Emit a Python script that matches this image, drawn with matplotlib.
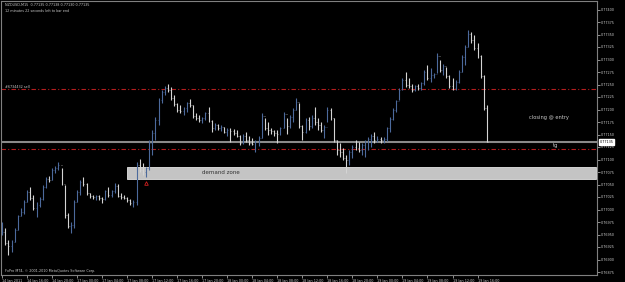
import matplotlib
matplotlib.use("Agg")
import matplotlib.pyplot as plt
import matplotlib.patches as mpatches
import matplotlib.transforms as mtransforms

# header / footer texts of the terminal window
symbol_info = "NZDUSD,M15  0.77135 0.77138 0.77130 0.77135"
timer_info = "12 minutes 22 seconds left to bar end"
copyright_info = "FxPro MT4, \u00a9 2001-2010 MetaQuotes Software Corp."

# bars (one bar every 30 min)
highs = [
    0.76975, 0.76963, 0.76939, 0.76939, 0.76963, 0.76989, 0.77003, 0.77019,
    0.77039, 0.77045, 0.77029, 0.77015, 0.77025, 0.77049, 0.77065, 0.77067,
    0.77083, 0.77087, 0.77095, 0.77083, 0.77049, 0.76993, 0.76975, 0.77019,
    0.77039, 0.77059, 0.77065, 0.77053, 0.77033, 0.77029, 0.77029, 0.77029,
    0.77025, 0.77039, 0.77045, 0.77039, 0.77053, 0.77051, 0.77033, 0.77029,
    0.77025, 0.77021, 0.77019, 0.77095, 0.77101, 0.77093, 0.77085, 0.77139,
    0.77159, 0.77185, 0.77223, 0.77239, 0.77247, 0.77251, 0.77245, 0.77229,
    0.77213, 0.77209, 0.77205, 0.77215, 0.77221, 0.77209, 0.77193, 0.77189,
    0.77185, 0.77195, 0.77205, 0.77179, 0.77173, 0.77171, 0.77169, 0.77165,
    0.77163, 0.77163, 0.77161, 0.77159, 0.77149, 0.77151, 0.77155, 0.77147,
    0.77143, 0.77139, 0.77147, 0.77193, 0.77183, 0.77175, 0.77163, 0.77159,
    0.77159, 0.77165, 0.77195, 0.77183, 0.77189, 0.77203, 0.77223, 0.77213,
    0.77169, 0.77183, 0.77185, 0.77189, 0.77205, 0.77183, 0.77175, 0.77169,
    0.77205, 0.77203, 0.77183, 0.77139, 0.77133, 0.77123, 0.77109, 0.77119,
    0.77129, 0.77139, 0.77135, 0.77133, 0.77139, 0.77145, 0.77151, 0.77155,
    0.77147, 0.77145, 0.77145, 0.77165, 0.77185, 0.77203, 0.77219, 0.77243,
    0.77263, 0.77275, 0.77263, 0.77251, 0.77249, 0.77251, 0.77255, 0.77279,
    0.77289, 0.77283, 0.77273, 0.77313, 0.77299, 0.77291, 0.77285, 0.77269,
    0.77263, 0.77259, 0.77279, 0.77309, 0.77329, 0.77359, 0.77355, 0.77349,
    0.77333, 0.77309, 0.77269, 0.77209,
]
lows = [
    0.76949, 0.76929, 0.76909, 0.76915, 0.76935, 0.76959, 0.76987, 0.76991,
    0.77015, 0.77019, 0.76999, 0.76985, 0.77005, 0.77019, 0.77043, 0.77055,
    0.77059, 0.77073, 0.77079, 0.77049, 0.76983, 0.76963, 0.76953, 0.76963,
    0.77015, 0.77029, 0.77047, 0.77029, 0.77023, 0.77021, 0.77019, 0.77019,
    0.77013, 0.77019, 0.77025, 0.77025, 0.77033, 0.77025, 0.77021, 0.77021,
    0.77015, 0.77009, 0.77005, 0.77009, 0.77075, 0.77069, 0.77065, 0.77079,
    0.77109, 0.77139, 0.77169, 0.77213, 0.77229, 0.77235, 0.77219, 0.77207,
    0.77195, 0.77193, 0.77189, 0.77195, 0.77205, 0.77183, 0.77179, 0.77175,
    0.77173, 0.77179, 0.77175, 0.77155, 0.77159, 0.77159, 0.77157, 0.77153,
    0.77147, 0.77135, 0.77149, 0.77145, 0.77129, 0.77131, 0.77135, 0.77129,
    0.77129, 0.77115, 0.77127, 0.77143, 0.77159, 0.77149, 0.77151, 0.77147,
    0.77133, 0.77149, 0.77163, 0.77151, 0.77163, 0.77175, 0.77199, 0.77163,
    0.77139, 0.77153, 0.77159, 0.77163, 0.77169, 0.77159, 0.77155, 0.77143,
    0.77175, 0.77179, 0.77135, 0.77109, 0.77105, 0.77099, 0.77073, 0.77089,
    0.77103, 0.77119, 0.77115, 0.77109, 0.77105, 0.77119, 0.77125, 0.77133,
    0.77135, 0.77133, 0.77133, 0.77137, 0.77155, 0.77179, 0.77195, 0.77219,
    0.77239, 0.77245, 0.77243, 0.77235, 0.77237, 0.77239, 0.77239, 0.77249,
    0.77259, 0.77255, 0.77263, 0.77273, 0.77275, 0.77269, 0.77263, 0.77243,
    0.77239, 0.77239, 0.77253, 0.77275, 0.77289, 0.77325, 0.77333, 0.77319,
    0.77303, 0.77263, 0.77199, 0.77135,
]
closes = [
    0.76955, 0.76933, 0.76927, 0.76935, 0.76959, 0.76987, 0.76995, 0.77015,
    0.77035, 0.77023, 0.77003, 0.77009, 0.77021, 0.77045, 0.77061, 0.77059,
    0.77079, 0.77083, 0.77089, 0.77051, 0.76989, 0.76967, 0.76969, 0.77015,
    0.77035, 0.77055, 0.77051, 0.77033, 0.77027, 0.77025, 0.77027, 0.77023,
    0.77021, 0.77037, 0.77029, 0.77037, 0.77047, 0.77027, 0.77025, 0.77023,
    0.77019, 0.77013, 0.77015, 0.77089, 0.77079, 0.77075, 0.77083, 0.77133,
    0.77153, 0.77179, 0.77219, 0.77235, 0.77243, 0.77239, 0.77223, 0.77211,
    0.77199, 0.77197, 0.77203, 0.77213, 0.77209, 0.77187, 0.77183, 0.77179,
    0.77183, 0.77193, 0.77177, 0.77163, 0.77169, 0.77163, 0.77165, 0.77155,
    0.77159, 0.77157, 0.77153, 0.77147, 0.77133, 0.77147, 0.77139, 0.77133,
    0.77131, 0.77135, 0.77143, 0.77187, 0.77163, 0.77159, 0.77157, 0.77153,
    0.77151, 0.77163, 0.77191, 0.77167, 0.77185, 0.77199, 0.77215, 0.77167,
    0.77155, 0.77179, 0.77167, 0.77183, 0.77175, 0.77169, 0.77159, 0.77165,
    0.77199, 0.77183, 0.77139, 0.77119, 0.77115, 0.77103, 0.77099, 0.77115,
    0.77125, 0.77123, 0.77119, 0.77129, 0.77135, 0.77141, 0.77147, 0.77139,
    0.77141, 0.77139, 0.77141, 0.77163, 0.77181, 0.77199, 0.77217, 0.77239,
    0.77259, 0.77249, 0.77247, 0.77239, 0.77247, 0.77243, 0.77253, 0.77275,
    0.77263, 0.77269, 0.77271, 0.77307, 0.77279, 0.77287, 0.77267, 0.77247,
    0.77243, 0.77255, 0.77275, 0.77305, 0.77325, 0.77351, 0.77339, 0.77323,
    0.77307, 0.77267, 0.77203, 0.77135,
]

time_labels = [
    "14 Jan 2011", "14 Jan 16:00", "14 Jan 20:00", "17 Jan 00:00",
    "17 Jan 04:00", "17 Jan 08:00", "17 Jan 12:00", "17 Jan 16:00",
    "17 Jan 20:00", "18 Jan 00:00", "18 Jan 04:00", "18 Jan 08:00",
    "18 Jan 12:00", "18 Jan 16:00", "18 Jan 20:00", "19 Jan 00:00",
    "19 Jan 04:00", "19 Jan 08:00", "19 Jan 12:00", "19 Jan 16:00",
]
bars_per_label = 8

price_ticks = [
    0.77400, 0.77375, 0.77350, 0.77325, 0.77300, 0.77275, 0.77250, 0.77225,
    0.77200, 0.77175, 0.77150, 0.77125, 0.77100, 0.77075, 0.77050, 0.77025,
    0.77000, 0.76975, 0.76950, 0.76925, 0.76900, 0.76875,
]

# chart objects
sell_name = "#6734432 sell"
sell_level = 0.77241
target_level = 0.77121
zone_top = 0.77085
zone_bottom = 0.77061
zone_start = 40
zone_end = 190
arrow_bar = 46
arrow_price = 0.77053
note_bar, note_price = 168.5, 0.77183
tg_bar, tg_price = 176, 0.77127

up_color = "#4c6a9c"
down_color = "#d4d4d4"
level_color = "#b41e1e"
grid_color = "#808080"
text_color = "#c8c8c8"

fig = plt.figure(figsize=(6.25, 2.82), dpi=100, facecolor="black")
ax = fig.add_axes([1.5 / 625, 7 / 282, 595.5 / 625, 274 / 282])
ax.set_facecolor("black")

n = len(closes)
idx = list(range(n))
opens = [closes[0]] + closes[:-1]
colors = [up_color if closes[i] >= opens[i] else down_color for i in idx]

ax.vlines(idx, lows, highs, colors=colors, lw=0.8, zorder=3)
ax.hlines(closes, idx, [i + 0.3 for i in idx], colors=colors, lw=0.4, zorder=3)
ax.hlines(opens, [i - 0.3 for i in idx], idx, colors=colors, lw=0.4, zorder=3)

# horizontal lines
ax.axhline(sell_level, color=level_color, lw=0.8, ls=(0, (4, 2, 1, 2)), zorder=2)
ax.axhline(target_level, color=level_color, lw=0.8, ls=(0, (4, 2, 1, 2)), zorder=2)
ax.axhline(closes[-1], color="#8a8a8a", lw=1.5, zorder=1)
ax.text(1, sell_level, sell_name, color=text_color, fontsize=2.4,
        va="bottom", ha="left")

# demand zone
zone = mpatches.Rectangle((zone_start, zone_bottom), zone_end - zone_start,
                          zone_top - zone_bottom, facecolor="#c4c4c4",
                          edgecolor="#e4e4e4", lw=0.6, zorder=2)
ax.add_patch(zone)
ax.text(64, (zone_top + zone_bottom) / 2, "demand zone", color="#303030",
        fontsize=4, ha="left", va="center", zorder=4)
ax.plot(arrow_bar, arrow_price, marker="^", color="#d02020", ms=2.6,
        mfc="none", mew=0.6, zorder=4)

ax.text(note_bar, note_price, "closing @ entry", color=text_color,
        fontsize=3.7, ha="left", va="center")
ax.text(tg_bar, tg_price, "tg", color=text_color, fontsize=3.8,
        ha="left", va="center")

ax.set_xlim(-0.2, 190.2)
ax.set_ylim(0.76869, 0.77417)

for s in ax.spines.values():
    s.set_color(grid_color)
    s.set_linewidth(0.8)

ax.yaxis.tick_right()
ax.set_yticks(price_ticks)
ax.set_yticklabels(["%.5f" % p for p in price_ticks])
ax.set_xticks([k * bars_per_label for k in range(len(time_labels))])
ax.set_xticklabels(time_labels, ha="left")
ax.tick_params(axis="both", colors=text_color, labelsize=2.4, length=2,
               width=0.5, pad=1)

# bid price tag on the price scale
trans = mtransforms.blended_transform_factory(ax.transAxes, ax.transData)
ax.text(1.004, closes[-1], "%.5f" % closes[-1], transform=trans, fontsize=2.4,
        color="black", ha="left", va="center", zorder=6,
        bbox=dict(facecolor="white", edgecolor="white", pad=0.6))

fig.text(5 / 625, 1 - 5 / 282, symbol_info, color=text_color, fontsize=2.4,
         va="center")
fig.text(5 / 625, 1 - 11 / 282, timer_info, color=text_color, fontsize=2.4,
         va="center")
fig.text(5 / 625, 1 - 271 / 282, copyright_info, color=text_color,
         fontsize=2.4, va="center")

fig.savefig("out.png", dpi=100, facecolor="black")
